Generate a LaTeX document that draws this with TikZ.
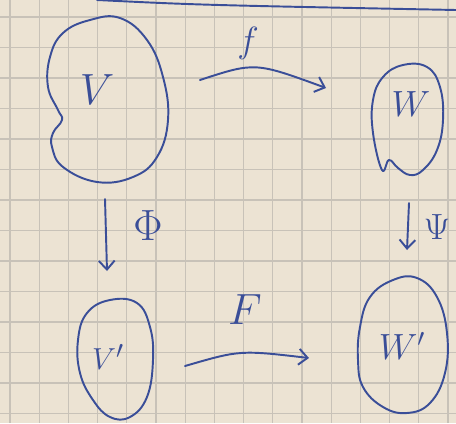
\documentclass[tikz,border=0pt]{standalone}
\usetikzlibrary{arrows.meta}
\definecolor{paper}{RGB}{236,227,211}
\definecolor{gridline}{RGB}{200,194,184}
\definecolor{ink}{RGB}{58,78,152}
\tikzset{
  pen/.style={ink,line width=1.1pt,line cap=round,line join=round},
  maparrow/.style={pen,-{Straight Barb[length=5pt,width=9pt,line width=1.1pt]}},
  lbl/.style={text=ink,inner sep=0pt}
}
\begin{document}
\begin{tikzpicture}[x=0.02cm,y=-0.02cm]
  \useasboundingbox (0,0) rectangle (456,423);
  \fill[paper] (0,0) rectangle (456,423);
  \foreach \gx in {0,...,15}
    \draw[gridline,line width=0.6pt] ({10+29.2*\gx},0) -- ({10+29.2*\gx},423);
  \foreach \gy in {0,...,13}
    \draw[gridline,line width=0.6pt] (0,{17+30.5*\gy}) -- (456,{17+30.5*\gy});
  \draw[pen] (97,0) .. controls (200,5) .. (456,10);
  % blobs
  \draw[pen] plot[smooth cycle,tension=0.7] coordinates {(90,20) (63,33) (50,57) (48,87) (58,110)
    (62,120) (53,133) (52,147) (63,167) (97,182) (133,177) (157,157) (168,120) (163,77) (147,40) (120,18)};
  \draw[pen] plot[smooth cycle,tension=0.7] coordinates {(382,170) (373,133) (373,100) (383,77) (403,65)
    (427,67) (440,87) (443,120) (437,150) (423,170) (410,175) (398,168) (389,160)};
  \draw[pen] plot[smooth cycle,tension=0.7] coordinates {(110,300) (87,313) (78,340) (80,373) (93,400)
    (110,417) (130,417) (147,397) (153,360) (150,327) (137,303)};
  \draw[pen] plot[smooth cycle,tension=0.7] coordinates {(393,280) (370,297) (360,327) (358,360) (363,387)
    (383,407) (407,413) (430,403) (445,373) (447,333) (437,297) (417,278)};
  % labels
  \node[lbl,font=\fontsize{32}{32}\selectfont] (V) at (97,90) {$V$};
  \node[lbl,font=\fontsize{22}{22}\selectfont] (W) at (411,104) {$W$};
  \node[lbl,font=\fontsize{19}{19}\selectfont] (Vp) at (108,357) {$V'$};
  \node[lbl,font=\fontsize{21}{21}\selectfont] (Wp) at (402,346) {$W'$};
  \node[lbl,font=\fontsize{22}{22}\selectfont] (flbl) at (248,43) {$f$};
  \node[lbl,font=\fontsize{32}{32}\selectfont] (Flbl) at (245,310) {$F$};
  \node[lbl,font=\fontsize{25}{25}\selectfont] (philbl) at (148,226) {$\Phi$};
  \node[lbl,font=\fontsize{22}{22}\selectfont] (psilbl) at (437,227) {$\Psi$};
  % maps
  \coordinate (f0) at (200,80);
  \coordinate (f1) at (326,88);
  \coordinate (F0) at (185,366);
  \coordinate (F1) at (309,358);
  \coordinate (phi0) at (105,199);
  \coordinate (phi1) at (107,271);
  \coordinate (psi0) at (409,203);
  \coordinate (psi1) at (407,250);
  \draw[maparrow] (f0) .. controls (255,62) .. (f1);
  \draw[maparrow] (F0) .. controls (240,350) .. (F1);
  \draw[maparrow] (phi0) -- (phi1);
  \draw[maparrow] (psi0) -- (psi1);
\end{tikzpicture}
\end{document}
